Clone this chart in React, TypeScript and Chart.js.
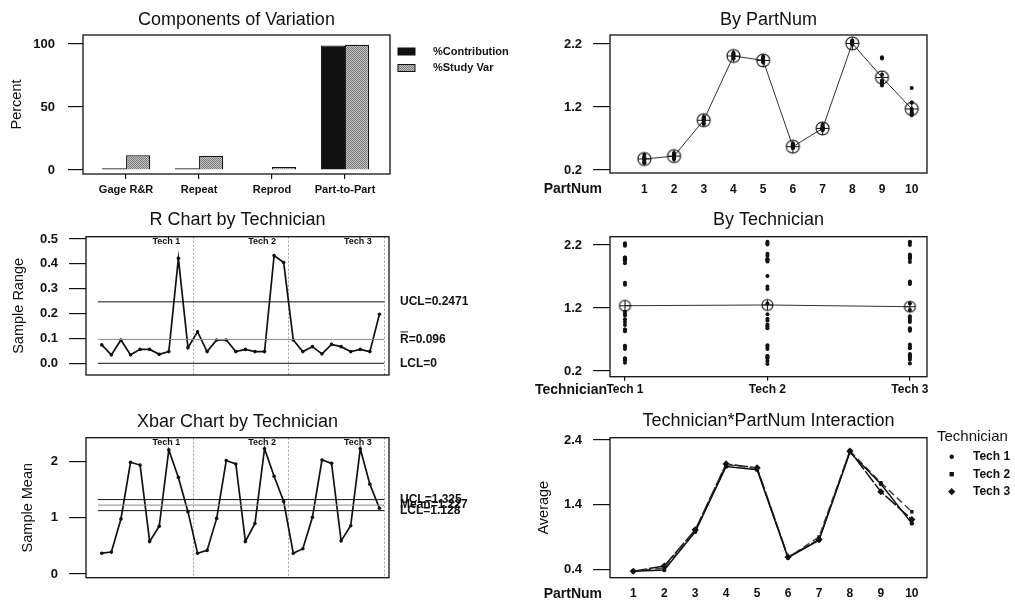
import { useEffect, useRef } from 'react';
import { Chart, registerables } from 'chart.js';

Chart.register(...registerables);

const FONT = "'Liberation Sans', Arial, Helvetica, sans-serif";
const INK = '#111111';

// ---------- Components of Variation ----------
const componentLabels = ['Gage R&R', 'Repeat', 'Reprod', 'Part-to-Part'];
const pctContribution = [1.3, 1.3, 0.4, 98.7];
const pctStudyVar = [11.8, 11.2, 2.4, 99.3];
const percentTicks = [0, 50, 100];

// ---------- Parts / technicians ----------
const partNums = [1, 2, 3, 4, 5, 6, 7, 8, 9, 10];
const techNames = ['Tech 1', 'Tech 2', 'Tech 3'];

// three trials per part, per technician
const tech1Trials = [
  [0.33, 0.4, 0.38], [0.37, 0.4, 0.4], [0.93, 1.02, 0.98], [1.97, 2.0, 2.0], [1.91, 1.96, 1.95],
  [0.55, 0.6, 0.59], [0.83, 0.86, 0.86], [2.19, 2.23, 2.21], [1.99, 1.57, 1.6], [1.08, 1.14, 1.11],
];
const tech2Trials = [
  [0.31, 0.44, 0.36], [0.4, 0.44, 0.42], [0.94, 1.03, 1.0], [1.97, 2.06, 2.03], [1.94, 1.98, 1.96],
  [0.55, 0.61, 0.58], [0.88, 0.92, 0.9], [2.21, 2.25, 2.23], [1.97, 1.54, 1.71], [1.5, 1.27, 1.1],
];
const tech3Trials = [
  [0.32, 0.41, 0.38], [0.43, 0.47, 0.45], [0.98, 1.04, 1.01], [2.01, 2.05, 2.03], [1.93, 2.0, 1.98],
  [0.56, 0.62, 0.59], [0.84, 0.88, 0.86], [2.2, 2.25, 2.24], [1.58, 1.62, 1.6], [1.07, 1.27, 1.17],
];

const partMeans = [0.375, 0.42, 0.99, 2.01, 1.94, 0.57, 0.86, 2.21, 1.67, 1.17];
const techMeans = [1.237, 1.248, 1.221];
const measureTicks = [0.2, 1.2, 2.2];

// ---------- R chart ----------
const rangesTech1 = [0.074, 0.034, 0.094, 0.034, 0.056, 0.056, 0.036, 0.047, 0.422, 0.063];
const rangesTech2 = [0.127, 0.047, 0.094, 0.094, 0.047, 0.056, 0.047, 0.047, 0.433, 0.405];
const rangesTech3 = [0.094, 0.047, 0.067, 0.038, 0.076, 0.067, 0.047, 0.056, 0.047, 0.197];
const rUCL = 0.2471;
const rBar = 0.096;
const rLCL = 0;
const rangeTicks = [0, 0.1, 0.2, 0.3, 0.4, 0.5];

// ---------- Xbar chart ----------
const meansTech1 = [0.37, 0.39, 0.98, 1.99, 1.94, 0.58, 0.85, 2.21, 1.72, 1.11];
const meansTech2 = [0.37, 0.42, 0.99, 2.02, 1.96, 0.58, 0.9, 2.23, 1.74, 1.29];
const meansTech3 = [0.37, 0.45, 1.01, 2.03, 1.97, 0.59, 0.86, 2.23, 1.6, 1.17];
const xUCL = 1.325;
const xMean = 1.227;
const xLCL = 1.128;
const meanTicks = [0, 1, 2];

const segmentBreaks = [10.5, 20.5, 30.5];
const segmentLabelAt = [7.75, 17.75, 27.75];
const limitSpan = [0.6, 30.5];

const interactionTicks = [0.4, 1.4, 2.4];

// ---------- helpers ----------
const common = {
  responsive: false,
  maintainAspectRatio: false,
  animation: false as const,
  devicePixelRatio: 1,
  events: [] as any[],
};

function drawText(ctx: any, text: string, x: number, y: number, font: string, align = 'left') {
  ctx.save();
  ctx.font = font;
  ctx.fillStyle = INK;
  ctx.textAlign = align;
  ctx.textBaseline = 'middle';
  ctx.fillText(text, x, y);
  ctx.restore();
}

function yAxis(o: any) {
  return {
    type: 'linear',
    position: 'left',
    min: o.min,
    max: o.max,
    afterBuildTicks: (s: any) => {
      s.ticks = o.ticks.map((v: number) => ({ value: v }));
    },
    afterFit: (s: any) => {
      s.width = o.width;
    },
    grid: { drawOnChartArea: false, drawTicks: true, tickLength: o.tickLength, color: INK, lineWidth: 1.2 },
    border: { display: false },
    ticks: {
      color: INK,
      padding: o.pad,
      autoSkip: false,
      font: { family: FONT, size: 13, weight: 'bold' },
      callback: (v: any) => Number(v).toFixed(o.decimals),
    },
    title: o.title
      ? { display: true, text: o.title, color: INK, font: { family: FONT, size: 14.5, weight: 'normal' }, padding: { top: o.titleOffset, bottom: 0 } }
      : { display: false },
  };
}

function xAxis(o: any) {
  return {
    type: 'linear',
    position: 'bottom',
    min: o.min,
    max: o.max,
    offset: false,
    afterBuildTicks: (s: any) => {
      s.ticks = o.ticks.map((v: number) => ({ value: v }));
    },
    afterFit: (s: any) => {
      s.height = o.height;
    },
    grid: { drawOnChartArea: false, offset: false, drawTicks: o.tickLength > 0, tickLength: o.tickLength, color: INK, lineWidth: 1.2 },
    border: { display: false },
    ticks: {
      color: INK,
      padding: o.pad,
      autoSkip: false,
      maxRotation: 0,
      font: { family: FONT, size: o.size, weight: 'bold' },
      callback: (v: any) => (o.labels ? o.labels[Math.round(Number(v)) - 1] : String(v)),
    },
  };
}

function titleOpt(text: string, top: number, bottom: number) {
  return {
    display: true,
    text,
    fullSize: false,
    color: INK,
    font: { family: FONT, size: 18, weight: 'normal' },
    padding: { top, bottom },
  };
}

const framePlugin = {
  id: 'frame',
  afterDraw(chart: any) {
    const { ctx, chartArea: a } = chart;
    ctx.save();
    ctx.strokeStyle = INK;
    ctx.lineWidth = 1.3;
    ctx.strokeRect(a.left, a.top, a.right - a.left, a.bottom - a.top);
    ctx.restore();
  },
};

function axisNamePlugin(text: string, dx: number, dy: number) {
  return {
    id: 'axisName',
    afterDraw(chart: any) {
      const a = chart.chartArea;
      drawText(chart.ctx, text, a.left + dx, a.bottom + dy, `bold 14px ${FONT}`, 'right');
    },
  };
}

function makeStipple(ctx: CanvasRenderingContext2D) {
  const c = document.createElement('canvas');
  c.width = 4;
  c.height = 4;
  const g = c.getContext('2d')!;
  for (let yy = 0; yy < 4; yy++) {
    for (let xx = 0; xx < 4; xx++) {
      g.fillStyle = (xx + yy) % 2 === 0 ? '#7c7c7c' : '#c2c2c2';
      g.fillRect(xx, yy, 1, 1);
    }
  }
  return ctx.createPattern(c, 'repeat');
}

function circlePlus(r: number) {
  const s = Math.ceil(r * 2 + 4);
  const c = document.createElement('canvas');
  c.width = s;
  c.height = s;
  const g = c.getContext('2d')!;
  const m = s / 2;
  g.strokeStyle = INK;
  g.lineWidth = 1.1;
  g.beginPath();
  g.arc(m, m, r, 0, Math.PI * 2);
  g.stroke();
  g.beginPath();
  g.moveTo(m - r, m);
  g.lineTo(m + r, m);
  g.moveTo(m, m - r);
  g.lineTo(m, m + r);
  g.stroke();
  return c;
}

const allTrials = [tech1Trials, tech2Trials, tech3Trials];

// ---------- panel configs ----------
function componentsConfig(ctx: CanvasRenderingContext2D) {
  const stipple = makeStipple(ctx);
  return {
    type: 'bar',
    data: {
      datasets: [
        {
          label: '%Contribution',
          data: componentLabels.map((_, i) => ({ x: i + 1, y: pctContribution[i] })),
          backgroundColor: INK,
          borderColor: INK,
          borderWidth: 1,
          categoryPercentage: 0.66,
          barPercentage: 1,
        },
        {
          label: '%Study Var',
          data: componentLabels.map((_, i) => ({ x: i + 1, y: pctStudyVar[i] })),
          backgroundColor: stipple,
          borderColor: INK,
          borderWidth: 1.3,
          categoryPercentage: 0.66,
          barPercentage: 1,
        },
      ],
    },
    options: {
      ...common,
      layout: { padding: { left: 0, right: 150, top: 0, bottom: 0 } },
      scales: {
        x: xAxis({ min: 0.41, max: 4.616, ticks: [1, 2, 3, 4], height: 26, tickLength: 5, pad: 4.4, size: 11, labels: componentLabels }),
        y: yAxis({ min: -3.17, max: 107.1, ticks: percentTicks, width: 83, tickLength: 15, pad: 13, decimals: 0, title: 'Percent', titleOffset: 8.3 }),
      },
      plugins: { legend: { display: false }, tooltip: { enabled: false }, title: titleOpt('Components of Variation', 9, 4.4) },
    },
    plugins: [
      framePlugin,
      {
        id: 'compLegend',
        afterDraw(chart: any) {
          const { ctx: c, chartArea: a } = chart;
          const x0 = a.right + 8;
          chart.data.datasets.forEach((ds: any, i: number) => {
            const y = a.top + 16.5 + i * 16.5;
            c.save();
            c.fillStyle = ds.backgroundColor;
            c.fillRect(x0, y - 3.5, 17, 7);
            c.strokeStyle = INK;
            c.lineWidth = 1;
            c.strokeRect(x0, y - 3.5, 17, 7);
            c.restore();
            drawText(c, ds.label, x0 + 35, y, `bold 11px ${FONT}`);
          });
        },
      },
    ],
  };
}

function byPartConfig() {
  const trialPoints = allTrials.flatMap((trials) =>
    trials.flatMap((vals, p) => vals.map((v) => ({ x: partNums[p], y: v })))
  );
  return {
    type: 'line',
    data: {
      datasets: [
        { data: trialPoints, showLine: false, pointRadius: 2, pointBackgroundColor: INK, pointBorderWidth: 0 },
        {
          data: partNums.map((p, i) => ({ x: p, y: partMeans[i] })),
          borderColor: '#333',
          borderWidth: 1,
          pointStyle: circlePlus(6.5),
          pointRadius: 7,
        },
      ],
    },
    options: {
      ...common,
      layout: { padding: { left: 0, right: 88, top: 0, bottom: 0 } },
      scales: {
        x: xAxis({ min: -0.155, max: 10.515, ticks: partNums, height: 27, tickLength: 0, pad: 9, size: 12 }),
        y: yAxis({ min: 0.152, max: 2.343, ticks: measureTicks, width: 90, tickLength: 17, pad: 11, decimals: 1 }),
      },
      plugins: { legend: { display: false }, tooltip: { enabled: false }, title: titleOpt('By PartNum', 9.7, 3.7) },
    },
    plugins: [framePlugin, axisNamePlugin('PartNum', -8, 16)],
  };
}

function controlDecor(segLabels: string[], limits: { label: string; value: number; bar?: boolean }[]) {
  return {
    id: 'controlDecor',
    beforeDatasetsDraw(chart: any) {
      const { ctx, chartArea: a, scales } = chart;
      ctx.save();
      ctx.strokeStyle = '#a0a0a0';
      ctx.lineWidth = 1;
      ctx.setLineDash([2, 2]);
      segmentBreaks.forEach((b) => {
        const px = Math.round(scales.x.getPixelForValue(b)) + 0.5;
        ctx.beginPath();
        ctx.moveTo(px, a.top);
        ctx.lineTo(px, a.bottom);
        ctx.stroke();
      });
      ctx.restore();
    },
    afterDraw(chart: any) {
      const { ctx, chartArea: a, scales } = chart;
      segLabels.forEach((t, i) => {
        drawText(ctx, t, scales.x.getPixelForValue(segmentLabelAt[i]), a.top + 4.5, `bold 9px ${FONT}`, 'center');
      });
      limits.forEach((l) => {
        const y = scales.y.getPixelForValue(l.value);
        const x = a.right + 11;
        const font = `bold 12px ${FONT}`;
        drawText(ctx, l.label, x, y, font);
        if (l.bar) {
          ctx.save();
          ctx.font = font;
          const w = ctx.measureText(l.label.charAt(0)).width;
          ctx.strokeStyle = INK;
          ctx.lineWidth = 1;
          ctx.beginPath();
          ctx.moveTo(x + 0.5, y - 7.5);
          ctx.lineTo(x + w - 0.5, y - 7.5);
          ctx.stroke();
          ctx.restore();
        }
      });
    },
  };
}

function limitLine(value: number, color: string, width: number) {
  return {
    data: limitSpan.map((x) => ({ x, y: value })),
    borderColor: color,
    borderWidth: width,
    pointRadius: 0,
  };
}

function rChartConfig() {
  const series = [...rangesTech1, ...rangesTech2, ...rangesTech3].map((v, i) => ({ x: i + 1, y: v }));
  return {
    type: 'line',
    data: {
      datasets: [
        limitLine(rUCL, INK, 1),
        limitLine(rBar, '#8c8c8c', 1),
        limitLine(rLCL, INK, 1),
        { data: series, borderColor: INK, borderWidth: 1.7, pointRadius: 1.8, pointBackgroundColor: INK, pointBorderWidth: 0 },
      ],
    },
    options: {
      ...common,
      layout: { padding: { left: 0, right: 151, top: 0, bottom: 25 } },
      scales: {
        x: { type: 'linear', display: false, min: -0.65, max: 31.0 },
        y: yAxis({ min: -0.047, max: 0.509, ticks: rangeTicks, width: 86, tickLength: 17, pad: 11, decimals: 1, title: 'Sample Range', titleOffset: 10.3 }),
      },
      plugins: { legend: { display: false }, tooltip: { enabled: false }, title: titleOpt('R Chart by Technician', 14.7, 5.4) },
    },
    plugins: [
      framePlugin,
      controlDecor(techNames, [
        { label: `UCL=${rUCL}`, value: rUCL },
        { label: `R=${rBar}`, value: rBar, bar: true },
        { label: `LCL=${rLCL}`, value: rLCL },
      ]),
    ],
  };
}

function xbarChartConfig() {
  const series = [...meansTech1, ...meansTech2, ...meansTech3].map((v, i) => ({ x: i + 1, y: v }));
  return {
    type: 'line',
    data: {
      datasets: [
        limitLine(xUCL, INK, 1),
        limitLine(xMean, '#8c8c8c', 1),
        limitLine(xLCL, INK, 1),
        { data: series, borderColor: INK, borderWidth: 1.7, pointRadius: 1.8, pointBackgroundColor: INK, pointBorderWidth: 0 },
      ],
    },
    options: {
      ...common,
      layout: { padding: { left: 0, right: 151, top: 0, bottom: 26.3 } },
      scales: {
        x: { type: 'linear', display: false, min: -0.65, max: 31.0 },
        y: yAxis({ min: -0.066, max: 2.427, ticks: meanTicks, width: 86, tickLength: 17, pad: 11, decimals: 0, title: 'Sample Mean', titleOffset: 18.8 }),
      },
      plugins: { legend: { display: false }, tooltip: { enabled: false }, title: titleOpt('Xbar Chart by Technician', 16.5, 4.6) },
    },
    plugins: [
      framePlugin,
      controlDecor(techNames, [
        { label: `UCL=${xUCL}`, value: xUCL },
        { label: `Mean=${xMean}`, value: xMean },
        { label: `LCL=${xLCL}`, value: xLCL },
      ]),
    ],
  };
}

function byTechConfig() {
  const trialPoints = allTrials.flatMap((trials, t) => trials.flat().map((v) => ({ x: t + 1, y: v })));
  return {
    type: 'line',
    data: {
      datasets: [
        { data: trialPoints, showLine: false, pointRadius: 2, pointBackgroundColor: INK, pointBorderWidth: 0 },
        {
          data: techNames.map((_, i) => ({ x: i + 1, y: techMeans[i] })),
          borderColor: '#333',
          borderWidth: 1,
          pointStyle: circlePlus(5.5),
          pointRadius: 6,
        },
      ],
    },
    options: {
      ...common,
      layout: { padding: { left: 0, right: 88, top: 0, bottom: 0 } },
      scales: {
        x: xAxis({ min: 0.895, max: 3.12, ticks: [1, 2, 3], height: 23.3, tickLength: 4, pad: 2, size: 12, labels: techNames }),
        y: yAxis({ min: 0.11, max: 2.332, ticks: measureTicks, width: 90, tickLength: 17, pad: 11, decimals: 1 }),
      },
      plugins: { legend: { display: false }, tooltip: { enabled: false }, title: titleOpt('By Technician', 13.9, 6.2) },
    },
    plugins: [framePlugin, axisNamePlugin('Technician', -3, 13.3)],
  };
}

function interactionConfig() {
  const techMeansByPart = [meansTech1, meansTech2, meansTech3];
  const styles = [
    { pointStyle: 'circle', pointRadius: 2.2, borderDash: [] as number[], color: INK },
    { pointStyle: 'rect', pointRadius: 2.4, borderDash: [7, 4], color: '#444' },
    { pointStyle: 'rectRot', pointRadius: 3.6, borderDash: [14, 2], color: INK },
  ];
  return {
    type: 'line',
    data: {
      datasets: techNames.map((name, t) => ({
        label: name,
        data: partNums.map((p, i) => ({ x: p, y: techMeansByPart[t][i] })),
        borderColor: styles[t].color,
        borderWidth: 1.5,
        borderDash: styles[t].borderDash,
        pointStyle: styles[t].pointStyle,
        pointRadius: styles[t].pointRadius,
        pointBackgroundColor: INK,
        pointBorderColor: INK,
        pointBorderWidth: 0,
      })),
    },
    options: {
      ...common,
      layout: { padding: { left: 0, right: 88, top: 0, bottom: 0 } },
      scales: {
        x: xAxis({ min: 0.247, max: 10.49, ticks: partNums, height: 26.3, tickLength: 0, pad: 9.1, size: 12 }),
        y: yAxis({ min: 0.27, max: 2.436, ticks: interactionTicks, width: 90, tickLength: 17, pad: 11, decimals: 1, title: 'Average', titleOffset: 15.3 }),
      },
      plugins: { legend: { display: false }, tooltip: { enabled: false }, title: titleOpt('Technician*PartNum Interaction', 15.2, 5.9) },
    },
    plugins: [
      framePlugin,
      axisNamePlugin('PartNum', -8, 16.3),
      {
        id: 'interLegend',
        afterDraw(chart: any) {
          const { ctx, chartArea: a } = chart;
          drawText(ctx, 'Technician', a.right + 10, a.top - 0.7, `15px ${FONT}`);
          chart.data.datasets.forEach((ds: any, i: number) => {
            const y = a.top + 19 + i * 17.5;
            const x = a.right + 24.7;
            ctx.save();
            ctx.fillStyle = INK;
            ctx.beginPath();
            if (ds.pointStyle === 'circle') {
              ctx.arc(x, y, 2.2, 0, Math.PI * 2);
            } else if (ds.pointStyle === 'rect') {
              ctx.rect(x - 2.2, y - 2.2, 4.4, 4.4);
            } else {
              ctx.moveTo(x, y - 3.6);
              ctx.lineTo(x + 3.6, y);
              ctx.lineTo(x, y + 3.6);
              ctx.lineTo(x - 3.6, y);
              ctx.closePath();
            }
            ctx.fill();
            ctx.restore();
            drawText(ctx, ds.label, a.right + 46, y, `bold 12px ${FONT}`);
          });
        },
      },
    ],
  };
}

// ---------- components ----------
function Panel(props: { left: number; top: number; width: number; height: number; make: (ctx: CanvasRenderingContext2D) => any }) {
  const ref = useRef<HTMLCanvasElement>(null);
  useEffect(() => {
    const canvas = ref.current!;
    const chart = new Chart(canvas, props.make(canvas.getContext('2d')!));
    return () => chart.destroy();
  }, []);
  return (
    <canvas
      ref={ref}
      width={props.width}
      height={props.height}
      style={{ position: 'absolute', left: props.left, top: props.top, width: props.width, height: props.height }}
    />
  );
}

export default function App() {
  return (
    <div style={{ position: 'absolute', left: 0, top: 0, width: 1015, height: 604, background: '#ffffff', overflow: 'hidden' }}>
      <Panel left={0} top={0} width={540} height={200} make={componentsConfig} />
      <Panel left={520} top={0} width={495} height={200} make={byPartConfig} />
      <Panel left={0} top={195} width={540} height={205} make={rChartConfig} />
      <Panel left={520} top={195} width={495} height={205} make={byTechConfig} />
      <Panel left={0} top={395} width={540} height={209} make={xbarChartConfig} />
      <Panel left={520} top={395} width={495} height={209} make={interactionConfig} />
    </div>
  );
}
